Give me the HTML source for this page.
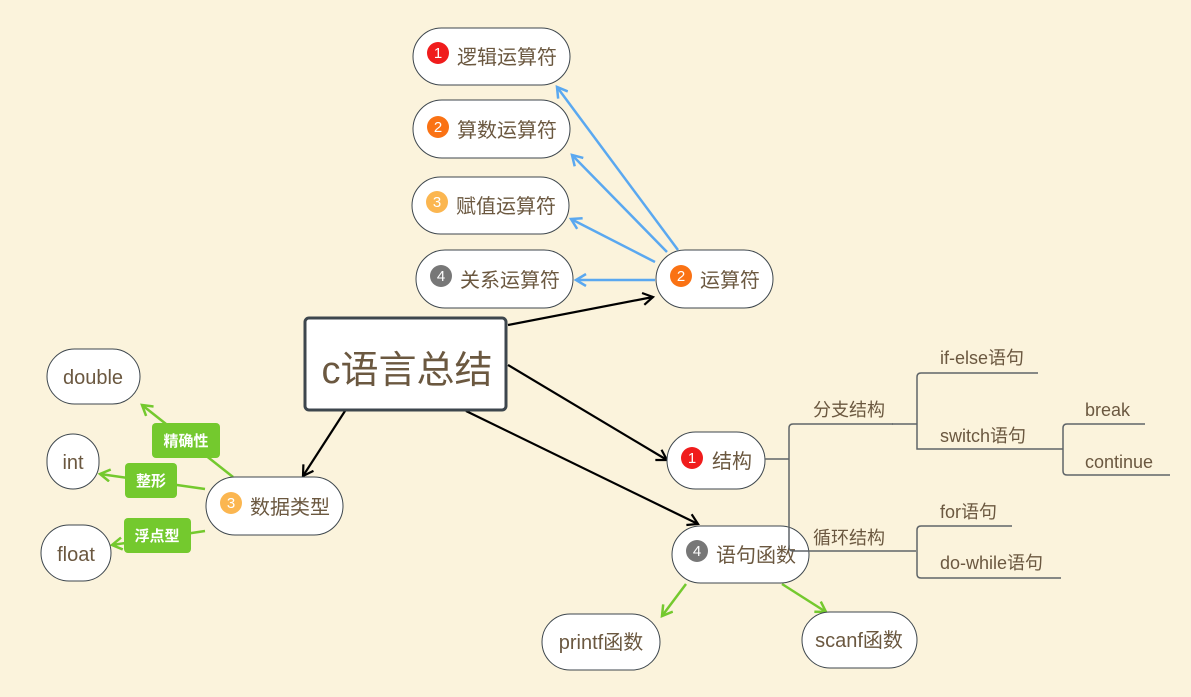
<!DOCTYPE html>
<html><head><meta charset="utf-8"><style>
html,body{margin:0;padding:0;background:#fbf3dc;}
svg{display:block;}
text{font-family:"Liberation Sans","Noto Sans CJK SC",sans-serif;fill:#6b5840;}
.n{fill:#fff;stroke:#3d464d;stroke-width:1;}
.t{font-size:20px;}
.b{font-size:15px;fill:#fff;text-anchor:middle;}
.s{font-size:18px;}
.bl{stroke:#5aa8f0;stroke-width:2.5;fill:none;}
.bk{stroke:#000;stroke-width:2.2;fill:none;}
.gr{stroke:#74c92e;stroke-width:2.5;fill:none;}
.tr{stroke:#5f6468;stroke-width:1.5;fill:none;}
.gl{font-size:15px;fill:#fff;font-weight:bold;text-anchor:middle;}
</style></head><body>
<svg width="1191" height="697" viewBox="0 0 1191 697">
<defs>
<marker id="ab" markerWidth="14" markerHeight="14" refX="11" refY="7" orient="auto" markerUnits="userSpaceOnUse"><path d="M1,1 L11,7 L1,13" fill="none" stroke="#5aa8f0" stroke-width="2.5"/></marker>
<marker id="ak" markerWidth="14" markerHeight="14" refX="11" refY="7" orient="auto" markerUnits="userSpaceOnUse"><path d="M1,1 L11,7 L1,13" fill="none" stroke="#000" stroke-width="2.2"/></marker>
<marker id="ag" markerWidth="14" markerHeight="14" refX="11" refY="7" orient="auto" markerUnits="userSpaceOnUse"><path d="M1,1 L11,7 L1,13" fill="none" stroke="#74c92e" stroke-width="2.5"/></marker>
</defs>
<line class="bl" x1="678" y1="250" x2="557" y2="87" marker-end="url(#ab)"/>
<line class="bl" x1="667" y1="252" x2="572" y2="155" marker-end="url(#ab)"/>
<line class="bl" x1="655" y1="262" x2="571" y2="219" marker-end="url(#ab)"/>
<line class="bl" x1="655" y1="280" x2="576" y2="280" marker-end="url(#ab)"/>
<line class="bk" x1="508" y1="325" x2="653" y2="297" marker-end="url(#ak)"/>
<line class="bk" x1="508" y1="365" x2="667" y2="460" marker-end="url(#ak)"/>
<line class="bk" x1="466" y1="411" x2="698" y2="524" marker-end="url(#ak)"/>
<line class="bk" x1="345" y1="411" x2="303" y2="476" marker-end="url(#ak)"/>
<line class="gr" x1="233" y1="477" x2="142" y2="405" marker-end="url(#ag)"/>
<line class="gr" x1="205" y1="489" x2="100" y2="474" marker-end="url(#ag)"/>
<line class="gr" x1="205" y1="531" x2="112" y2="545" marker-end="url(#ag)"/>
<line class="gr" x1="686" y1="584" x2="662" y2="616" marker-end="url(#ag)"/>
<line class="gr" x1="782" y1="584" x2="826" y2="612" marker-end="url(#ag)"/>
<rect x="152" y="423" width="68" height="35" rx="4" fill="#74c92e"/><text class="gl" x="186" y="446">精确性</text>
<rect x="125" y="463" width="52" height="35" rx="4" fill="#74c92e"/><text class="gl" x="151" y="486">整形</text>
<rect x="124" y="518" width="67" height="35" rx="4" fill="#74c92e"/><text class="gl" x="157" y="541">浮点型</text>
<rect x="305" y="318" width="201" height="92" rx="4" fill="#fff" stroke="#3d464d" stroke-width="3"/>
<text x="407" y="383" text-anchor="middle" style="font-size:38px">c语言总结</text>
<rect class="n" x="413" y="28" width="157" height="57" rx="28.5"/><circle cx="438" cy="53" r="11" fill="#f01c1c"/><text class="b" x="438" y="58">1</text><text class="t" x="457" y="64">逻辑运算符</text>
<rect class="n" x="413" y="100" width="157" height="58" rx="29"/><circle cx="438" cy="127" r="11" fill="#fa7214"/><text class="b" x="438" y="132">2</text><text class="t" x="457" y="137">算数运算符</text>
<rect class="n" x="412" y="177" width="157" height="57" rx="28.5"/><circle cx="437" cy="202" r="11" fill="#fbb650"/><text class="b" x="437" y="207">3</text><text class="t" x="456" y="213">赋值运算符</text>
<rect class="n" x="416" y="250" width="157" height="58" rx="29"/><circle cx="441" cy="276" r="11" fill="#777"/><text class="b" x="441" y="281">4</text><text class="t" x="460" y="287">关系运算符</text>
<rect class="n" x="656" y="250" width="117" height="58" rx="29"/><circle cx="681" cy="276" r="11" fill="#fa7214"/><text class="b" x="681" y="281">2</text><text class="t" x="700" y="287">运算符</text>
<rect class="n" x="667" y="432" width="98" height="57" rx="28.5"/><circle cx="692" cy="458" r="11" fill="#f01c1c"/><text class="b" x="692" y="463">1</text><text class="t" x="712" y="468">结构</text>
<rect class="n" x="672" y="526" width="137" height="57" rx="28.5"/><circle cx="697" cy="551" r="11" fill="#777"/><text class="b" x="697" y="556">4</text><text class="t" x="716" y="562">语句函数</text>
<rect class="n" x="206" y="477" width="137" height="58" rx="29"/><circle cx="231" cy="503" r="11" fill="#fbb650"/><text class="b" x="231" y="508">3</text><text class="t" x="250" y="514">数据类型</text>
<rect class="n" x="47" y="349" width="93" height="55" rx="27.5"/><text class="t" x="93" y="384" text-anchor="middle">double</text>
<rect class="n" x="47" y="434" width="52" height="55" rx="26"/><text class="t" x="73" y="469" text-anchor="middle">int</text>
<rect class="n" x="41" y="525" width="70" height="56" rx="28"/><text class="t" x="76" y="561" text-anchor="middle">float</text>
<rect class="n" x="542" y="614" width="118" height="56" rx="28"/><text class="t" x="601" y="649" text-anchor="middle">printf函数</text>
<rect class="n" x="802" y="612" width="115" height="56" rx="28"/><text class="t" x="859" y="647" text-anchor="middle">scanf函数</text>
<path class="tr" d="M765 459 H789 M893 424 H793 Q789 424 789 428 V547 Q789 551 793 551 H916"/>
<path class="tr" d="M892 424 H917 M1038 373 H921 Q917 373 917 377 V449 H1063 M1145 424 H1067 Q1063 424 1063 428 V471 Q1063 475 1067 475 H1170"/>
<path class="tr" d="M1012 526 H921 Q917 526 917 530 V574 Q917 578 921 578 H1061"/>
<text class="s" x="813" y="416">分支结构</text>
<text class="s" x="813" y="544">循环结构</text>
<text class="s" x="940" y="364">if-else语句</text>
<text class="s" x="940" y="442">switch语句</text>
<text class="s" x="1085" y="416">break</text>
<text class="s" x="1085" y="468">continue</text>
<text class="s" x="940" y="518">for语句</text>
<text class="s" x="940" y="569">do-while语句</text>
</svg>
</body></html>
